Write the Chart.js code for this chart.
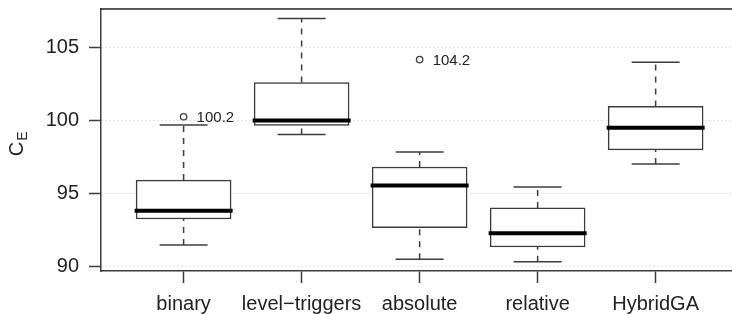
<!DOCTYPE html>
<html>
<head>
<meta charset="utf-8">
<script src="https://cdn.jsdelivr.net/npm/chart.js@4/dist/chart.umd.min.js"></script>
<style>
  body { margin: 0; background: #fff; }
</style>
</head>
<body>
<canvas id="ce_chart" width="732" height="314"></canvas>
<script>
// values
const categories = ['binary', 'level\u2212triggers', 'absolute', 'relative', 'HybridGA'];
const lowerWhisker = [91.45, 99.04, 90.46, 90.30, 97.0];
const q1 = [93.23, 99.66, 92.64, 91.31, 97.98];
const medians = [93.8, 100.0, 95.53, 92.25, 99.5];
const q3 = [95.9, 102.6, 96.8, 93.99, 100.96];
const upperWhisker = [99.68, 107.0, 97.83, 95.42, 103.99];
const outlierCats = [1, 3];
const outlierValues = [100.25, 104.18];
const outlierLabels = ['100.2', '104.2'];
const yTicks = [90, 95, 100, 105];

const FONT = "'Liberation Sans', Arial, sans-serif";
const lineColor = '#3c3c3c';

const pos = categories.map((c, i) => i + 1);

const boxData = pos.map((x, i) => ({x: x, y: [q1[i], q3[i]]}));
const medianData = pos.map((x, i) => ({x: x, y: medians[i]}));
const capData = [];
const whiskerData = [];
pos.forEach((x, i) => {
  capData.push({x: x, y: lowerWhisker[i]});
  capData.push({x: x, y: upperWhisker[i]});
  whiskerData.push({x: x, y: lowerWhisker[i]}, {x: x, y: q1[i]}, {x: x, y: null});
  whiskerData.push({x: x, y: q3[i]}, {x: x, y: upperWhisker[i]}, {x: x, y: null});
});
const outlierData = outlierCats.map((c, i) => ({x: c, y: outlierValues[i]}));

function noEdgePadding(scale) {
  scale.paddingTop = 0;
  scale.paddingBottom = 0;
  scale.paddingLeft = 0;
  scale.paddingRight = 0;
}

// top frame line, outlier labels, y axis title with subscript
const annotate = {
  id: 'annotate',
  beforeDatasetsDraw(chart) {
    const ctx = chart.ctx;
    const area = chart.chartArea;
    ctx.save();
    ctx.strokeStyle = '#222';
    ctx.lineWidth = 1.5;
    ctx.beginPath();
    ctx.moveTo(area.left - 0.75, area.top);
    ctx.lineTo(area.right, area.top);
    ctx.stroke();
    ctx.restore();
  },
  afterDatasetsDraw(chart) {
    const ctx = chart.ctx;
    const meta = chart.getDatasetMeta(4);
    ctx.save();
    ctx.fillStyle = '#222';
    ctx.font = '15px ' + FONT;
    ctx.textAlign = 'left';
    ctx.textBaseline = 'middle';
    meta.data.forEach((pt, i) => {
      ctx.fillText(outlierLabels[i], pt.x + 13, pt.y + 1);
    });
    ctx.restore();
  },
  afterDraw(chart) {
    const ctx = chart.ctx;
    const area = chart.chartArea;
    ctx.save();
    ctx.translate(17, (area.top + area.bottom) / 2 + 3);
    ctx.rotate(-Math.PI / 2);
    ctx.fillStyle = '#222';
    ctx.textAlign = 'center';
    ctx.textBaseline = 'middle';
    ctx.font = '20px ' + FONT;
    ctx.fillText('C', -6, 0);
    ctx.font = '14px ' + FONT;
    ctx.fillText('E', 7, 6);
    ctx.restore();
  }
};

new Chart('ce_chart', {
  type: 'bar',
  data: {
    datasets: [
      {
        type: 'bar',
        data: boxData,
        backgroundColor: '#fff',
        borderColor: lineColor,
        borderWidth: 1.5,
        borderSkipped: false,
        barThickness: 95,
        order: 4
      },
      {
        type: 'scatter',
        data: medianData,
        pointStyle: 'line',
        pointRadius: 49,
        borderWidth: 4,
        borderColor: '#000',
        order: 2
      },
      {
        type: 'scatter',
        data: capData,
        pointStyle: 'line',
        pointRadius: 24,
        borderWidth: 1.5,
        borderColor: lineColor,
        order: 3
      },
      {
        type: 'line',
        data: whiskerData,
        borderColor: lineColor,
        borderWidth: 1.5,
        borderDash: [6, 6],
        pointRadius: 0,
        spanGaps: false,
        order: 5
      },
      {
        type: 'scatter',
        data: outlierData,
        pointStyle: 'circle',
        pointRadius: 3.2,
        borderWidth: 1.3,
        borderColor: lineColor,
        backgroundColor: '#fff',
        order: 1
      }
    ]
  },
  options: {
    responsive: false,
    animation: false,
    layout: { autoPadding: false, padding: { top: 9, left: 0, right: 0, bottom: 0 } },
    plugins: {
      legend: { display: false },
      tooltip: { enabled: false }
    },
    scales: {
      x: {
        type: 'linear',
        position: 'bottom',
        offset: false,
        min: 0.3,
        max: 5.647,
        afterBuildTicks: scale => { scale.ticks = pos.map(v => ({value: v})); },
        afterFit: scale => { scale.height = 43; noEdgePadding(scale); },
        ticks: {
          callback: v => categories[v - 1],
          font: { family: FONT, size: 20 },
          color: '#222',
          padding: 9,
          maxRotation: 0,
          autoSkip: false
        },
        grid: {
          offset: false,
          drawOnChartArea: false,
          tickLength: 12,
          tickColor: lineColor,
          tickWidth: 1.5
        },
        border: { color: lineColor, width: 1.5 }
      },
      y: {
        min: 89.66,
        max: 107.65,
        afterBuildTicks: scale => { scale.ticks = yTicks.map(v => ({value: v})); },
        afterFit: scale => { scale.width = 101; noEdgePadding(scale); },
        ticks: {
          font: { family: FONT, size: 20 },
          color: '#222',
          padding: 10
        },
        grid: {
          color: '#c8c8c8',
          lineWidth: 1,
          tickLength: 12,
          tickColor: lineColor,
          tickWidth: 1.5
        },
        border: { color: lineColor, width: 1.5, dash: [1, 3] }
      }
    }
  },
  plugins: [annotate]
});
</script>
</body>
</html>
